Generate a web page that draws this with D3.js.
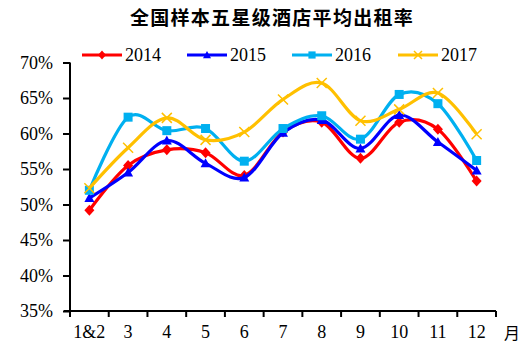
<!DOCTYPE html>
<html><head><meta charset="utf-8">
<script src="https://cdn.jsdelivr.net/npm/d3@7/dist/d3.min.js"></script>
<style>body{margin:0;background:#fff}svg{display:block}</style>
</head><body>
<svg id="c" width="520" height="348"></svg>
<script>
const title = "全国样本五星级酒店平均出租率";
const categories = ["1&2","3","4","5","6","7","8","9","10","11","12"];
const seriesNames = ["2014","2015","2016","2017"];
const s2014 = [49.2,55.5,57.7,57.3,54.1,60.2,61.6,56.5,61.6,60.6,53.3];
const s2015 = [50.9,54.5,59.0,55.8,53.8,60.1,61.9,57.9,62.6,58.8,54.8];
const s2016 = [52.0,62.3,60.4,60.7,56.1,60.7,62.5,59.2,65.5,64.2,56.2];
const s2017 = [52.3,58.0,62.2,59.1,60.2,64.8,67.1,61.8,63.4,65.7,59.9];
const yTicks = [35,40,45,50,55,60,65,70];
const yTickLabels = ["35%","40%","45%","50%","55%","60%","65%","70%"];
const xUnit = "月";
const colors = ["#FF0000","#0000FF","#00B0F0","#FFC000"];
const markers = ["diamond","triangle","square","x"];
const allSeries = [s2014,s2015,s2016,s2017];

const svg = d3.select("#c");
const x = d3.scaleBand().domain(categories).range([70,496]).padding(0);
const y = d3.scaleLinear().domain([35,70]).range([311,62.5]);
const serif = "'Liberation Serif','Times New Roman',serif";

svg.append("text").attr("x",272).attr("y",25).attr("text-anchor","middle")
  .attr("font-family","'Noto Sans CJK SC'").attr("font-weight","bold")
  .attr("font-size",19).attr("letter-spacing",1.3).text(title);

// y axis
const ya = svg.append("g").attr("transform","translate(70,0)")
  .call(d3.axisLeft(y).tickValues(yTicks).tickSize(7).tickPadding(10)
    .tickFormat((d,i)=>yTickLabels[i]));
ya.select(".domain").attr("stroke","#000").attr("stroke-width",2).attr("d","M0,62.5V311");
ya.selectAll(".tick line").attr("stroke","#000").attr("stroke-width",2);
ya.selectAll(".tick text").attr("font-family",serif).attr("font-size",18).attr("fill","#000").attr("dy","0.33em");

// x axis
const xa = svg.append("g").attr("transform","translate(0,311)")
  .call(d3.axisBottom(x).tickSize(0).tickPadding(14));
xa.select(".domain").attr("stroke","#000").attr("stroke-width",2).attr("d","M64,0H496");
xa.selectAll(".tick text").attr("font-family",serif).attr("font-size",18).attr("fill","#000");
const bounds = categories.map(c=>x(c)).concat([x.range()[1]]);
xa.selectAll("line.bt").data(bounds).enter().append("line").attr("class","bt")
  .attr("x1",d=>d).attr("x2",d=>d).attr("y1",0).attr("y2",6)
  .attr("stroke","#000").attr("stroke-width",2);
svg.append("text").attr("x",504).attr("y",339).attr("font-family","'Noto Sans CJK SC'")
  .attr("font-size",16).text(xUnit);

// markers
function drawMarker(g, type, color, s){
  if(type==="diamond"){
    g.append("path").attr("d",`M0,${-s*1.1}L${s},0L0,${s*1.1}L${-s},0Z`).attr("fill",color);
  } else if(type==="triangle"){
    g.append("path").attr("d",`M0,${-s}L${s},${s*0.8}L${-s},${s*0.8}Z`).attr("fill",color);
  } else if(type==="square"){
    const h=s*0.9;
    g.append("path").attr("d",`M${-h},${-h}H${h}V${h}H${-h}Z`).attr("fill",color);
  } else {
    g.append("path").attr("d",`M${-s},${-s}L${s},${s}M${s},${-s}L${-s},${s}`)
      .attr("stroke",color).attr("stroke-width",1.5).attr("fill","none");
  }
}

const line = d3.line().x((d,i)=>x(categories[i])+x.bandwidth()/2).y(d=>y(d)).curve(d3.curveCardinal.tension(0));
allSeries.forEach((vals,k)=>{
  const g = svg.append("g");
  g.append("path").datum(vals).attr("d",line).attr("fill","none")
    .attr("stroke",colors[k]).attr("stroke-width",3.2);
  vals.forEach((v,i)=>{
    const mg = g.append("g").attr("transform",`translate(${x(categories[i])+x.bandwidth()/2},${y(v)})`);
    drawMarker(mg, markers[k], colors[k], 5);
  });
});

// legend
const legX = [82,187,292,398];
seriesNames.forEach((n,k)=>{
  const g = svg.append("g");
  g.append("line").attr("x1",legX[k]).attr("x2",legX[k]+40).attr("y1",55).attr("y2",55)
    .attr("stroke",colors[k]).attr("stroke-width",3.2);
  const mg = g.append("g").attr("transform",`translate(${legX[k]+20},55)`);
  drawMarker(mg, markers[k], colors[k], 4);
  g.append("text").attr("x",legX[k]+43).attr("y",61).attr("font-family",serif)
    .attr("font-size",18).text(n);
});
</script>
</body></html>
